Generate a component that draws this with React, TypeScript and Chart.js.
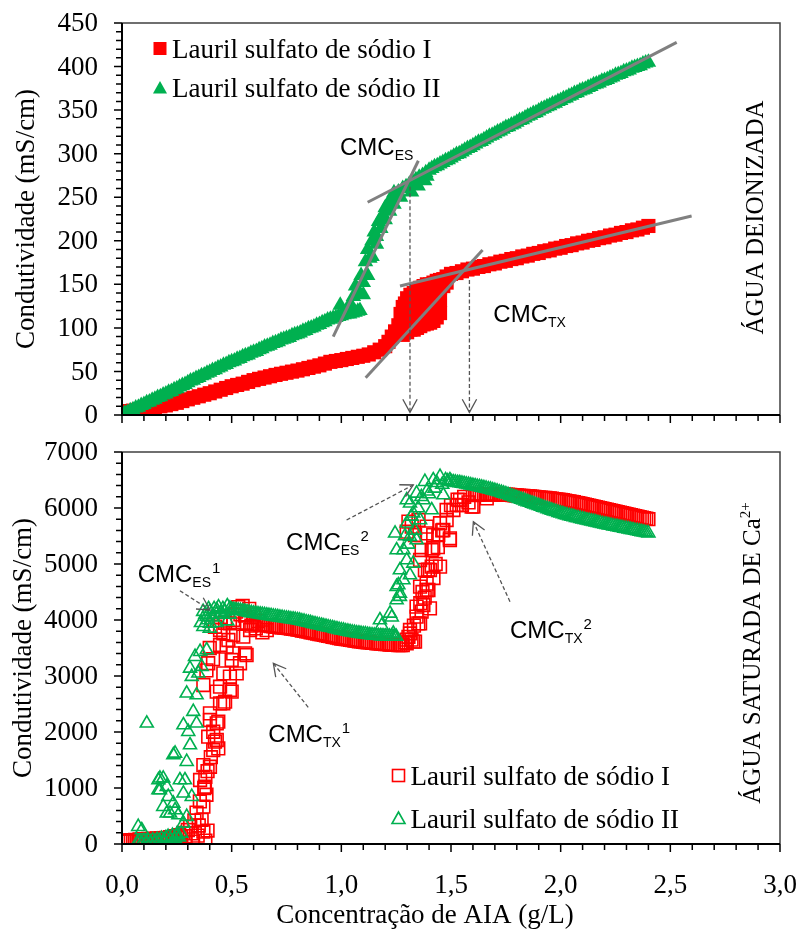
import React, { useEffect, useRef } from 'react';
import { Chart, registerables } from 'chart.js';

Chart.register(...registerables);

// ---------------- data ----------------
const seriesNames = ['Lauril sulfato de sódio I', 'Lauril sulfato de sódio II'];
const xTickValues = [0, 0.5, 1, 1.5, 2, 2.5, 3];
const xTickLabels = ['0,0', '0,5', '1,0', '1,5', '2,0', '2,5', '3,0'];
const topYTicks = [0, 50, 100, 150, 200, 250, 300, 350, 400, 450];
const bottomYTicks = [0, 1000, 2000, 3000, 4000, 5000, 6000, 7000];

// Top panel (água deionizada)
const topLaurilI = [
  [0,4],[0.025,4.5],[0.05,5],[0.075,6],[0.1,7],[0.125,8],[0.15,9],[0.175,10],[0.2,11],[0.225,12.5],[0.25,14],[0.275,16],
  [0.3,18],[0.325,19.8],[0.35,21.5],[0.375,23.3],[0.4,25],[0.425,27],[0.45,29],[0.475,31],[0.5,33],[0.525,34.5],
  [0.55,36],[0.575,38],[0.6,40],[0.625,41.5],[0.65,43],[0.675,44.5],[0.7,46],[0.725,47.3],[0.75,48.5],[0.775,49.8],
  [0.8,51],[0.825,52.5],[0.85,54],[0.875,55.5],[0.9,57],[0.925,59],[0.95,61],[0.975,62],[1,63],[1.025,64.3],
  [1.05,65.5],[1.075,66.8],[1.1,68],[1.125,69.5],[1.15,72],[1.175,75],[1.2,79],[1.215,84],[1.23,90],[1.245,96],
  [1.26,103],
  [1.27,100],[1.27,116],[1.28,92],[1.28,108],[1.28,124],[1.29,96],[1.29,112],[1.29,128],[1.3,95],[1.3,110],[1.3,126],
  [1.3,134],[1.315,98],[1.315,114],[1.315,130],[1.315,138],[1.33,98],[1.33,112],[1.33,128],[1.33,140],[1.345,100],
  [1.345,116],[1.345,132],[1.345,144],[1.36,102],[1.36,118],[1.36,134],[1.36,146],[1.375,104],[1.375,120],[1.375,136],
  [1.375,148],[1.39,105],[1.39,122],[1.39,138],[1.39,150],[1.405,106],[1.405,124],[1.405,140],[1.405,150],[1.42,108],
  [1.42,126],[1.42,142],[1.42,152],[1.435,112],[1.435,128],[1.435,144],[1.435,154],[1.45,117],[1.45,132],[1.45,146],
  [1.45,155],[1.465,148],[1.465,156],[1.48,152],[1.48,159],[1.5,162],[1.525,163],
  [1.55,165],[1.575,167],[1.6,168],[1.625,170],[1.65,171],[1.675,173],[1.7,174],[1.725,176],[1.75,177],[1.775,179],
  [1.8,180],[1.825,182],[1.85,183],[1.875,185],[1.9,186],[1.925,188],[1.95,189],[1.975,191],[2,192],[2.025,194],
  [2.05,195],[2.075,197],[2.1,198],[2.125,200],[2.15,201],[2.175,203],[2.2,204],[2.225,206],[2.25,207],[2.275,209],
  [2.3,210],[2.325,212],[2.35,213],[2.375,215],[2.4,217],
];
const topLaurilII = [
  [0,0],[0.0125,2],[0.025,3],[0.0375,5],[0.05,6],[0.0625,8],[0.075,9],[0.0875,11],[0.1,12],[0.1125,14],[0.125,15],
  [0.1375,17],[0.15,18],[0.1625,20],[0.175,21],[0.1875,23],[0.2,24],[0.2125,26],[0.225,27],[0.2375,29],[0.25,30],
  [0.2625,32],[0.275,34],[0.2875,35],[0.3,37],[0.3125,39],[0.325,40],[0.3375,42],[0.35,43],[0.3625,45],[0.375,46],
  [0.3875,48],[0.4,49],[0.4125,51],[0.425,52],[0.4375,54],[0.45,55],[0.4625,57],[0.475,58],[0.4875,60],[0.5,61],
  [0.5125,62],[0.525,64],[0.5375,65],[0.55,67],[0.5625,68],[0.575,69],[0.5875,71],[0.6,72],[0.6125,73],[0.625,75],
  [0.6375,76],[0.65,78],[0.6625,79],[0.675,80],[0.6875,82],[0.7,83],[0.7125,84],[0.725,86],[0.7375,87],[0.75,88],
  [0.7625,89],[0.775,91],[0.7875,92],[0.8,93],[0.8125,94],[0.825,96],[0.8375,97],[0.85,99],[0.8625,100],[0.875,101],
  [0.8875,103],[0.9,104],[0.9125,106],[0.925,107],[0.9375,109],[0.95,110],[0.9625,111],[0.975,112],[0.9875,113],
  [1,114],[1.0125,115],[1.025,116],[1.0375,116],[1.05,117],[1.0625,118],[1.075,119],[1.085,120],
  [0.995,126],[1.04,128],[1.055,136],[1.065,148],[1.075,140],[1.09,160],[1.1,152],[1.1,138],[1.11,176],[1.12,190],
  [1.12,160],[1.13,180],[1.14,200],[1.14,182],[1.15,210],[1.16,196],[1.16,205],[1.17,222],[1.18,214],[1.18,224],
  [1.19,230],[1.2,224],[1.2,238],[1.21,240],[1.22,234],[1.22,246],[1.23,248],[1.24,242],[1.24,255],[1.25,252],
  [1.26,256],[1.27,250],[1.28,260],[1.295,262],[1.31,265],[1.32,256],[1.325,268],[1.34,270],[1.35,263],[1.355,273],
  [1.37,275],[1.38,269],[1.385,278],[1.39,274],
  [1.4,281],[1.4125,283],[1.425,285],[1.4375,286],[1.45,288],[1.4625,290],[1.475,292],[1.4875,293],[1.5,295],
  [1.5125,297],[1.525,299],[1.5375,300],[1.55,302],[1.5625,304],[1.575,306],[1.5875,307],[1.6,309],[1.6125,311],
  [1.625,313],[1.6375,314],[1.65,316],[1.6625,318],[1.675,320],[1.6875,321],[1.7,323],[1.7125,325],[1.725,326],
  [1.7375,328],[1.75,330],[1.7625,331],[1.775,333],[1.7875,334],[1.8,336],[1.8125,338],[1.825,339],[1.8375,341],
  [1.85,343],[1.8625,344],[1.875,346],[1.8875,347],[1.9,349],[1.9125,351],[1.925,352],[1.9375,354],[1.95,355],
  [1.9625,357],[1.975,358],[1.9875,360],[2,361],[2.0125,363],[2.025,364],[2.0375,366],[2.05,367],[2.0625,369],
  [2.075,370],[2.0875,372],[2.1,373],[2.1125,374],[2.125,376],[2.1375,377],[2.15,379],[2.1625,380],[2.175,381],
  [2.1875,383],[2.2,384],[2.2125,385],[2.225,387],[2.2375,388],[2.25,390],[2.2625,391],[2.275,392],[2.2875,394],
  [2.3,395],[2.3125,396],[2.325,398],[2.3375,399],[2.35,400],[2.3625,401],[2.375,403],[2.3875,404],[2.4,405],
];
const topFitLines = [
  [[0.963, 89.9], [1.351, 291.9]],
  [[1.12, 244.2], [2.529, 427.8]],
  [[1.111, 42.8], [1.644, 189.4]],
  [[1.2675, 148.1], [2.597, 228.4]],
];
const topCmcArrows = [[1.313, 262, 1.313, 3], [1.584, 155, 1.584, 3]];
const topCmcLabels = [
  { x: 0.994, y: 298.5, sub: 'ES', sup: '' },
  { x: 1.693, y: 106.4, sub: 'TX', sup: '' },
];

// Bottom panel (água saturada de Ca2+)
const bottomLaurilI = [
  [0,55],[0.01,45],[0.02,65],[0.03,50],[0.04,70],[0.05,55],[0.06,75],[0.07,60],[0.08,80],[0.09,65],[0.1,85],[0.11,70],
  [0.12,90],[0.13,75],[0.14,95],[0.15,80],[0.16,100],[0.17,85],[0.18,105],[0.19,90],[0.2,110],[0.21,95],[0.22,120],
  [0.23,100],[0.24,140],[0.25,110],[0.26,160],[0.27,120],
  [0.28,200],[0.29,140],[0.3,250],[0.311,310],[0.318,190],[0.324,42],[0.33,420],[0.34,560],[0.345,150],[0.35,330],
  [0.355,760],[0.363,430],[0.371,220],[0.371,666],[0.375,1000],[0.378,1023],[0.356,1143],[0.38,1200],[0.38,60],
  [0.39,240],[0.371,1410],[0.385,880],[0.39,1300],[0.401,1380],[0.393,1916],[0.401,2214],[0.401,2333],[0.405,1550],
  [0.416,1678],[0.416,2005],[0.424,1827],[0.432,1857],[0.432,2155],[0.439,1708],[0.439,2184],[0.447,2512],[0.447,2809],
  [0.432,2720],[0.47,2541],[0.462,2512],[0.462,3048],[0.492,2988],[0.5,2720],[0.492,2750],[0.371,2839],[0.393,3227],
  [0.385,3100],[0.4,3500],[0.415,3300],[0.5,3286],[0.523,3048],[0.561,3405],[0.568,3375],[0.538,3227],[0.507,3405],
  [0.477,3524],[0.447,3554],[0.485,3643],[0.462,3762],[0.424,3880],[0.507,3732],[0.553,3702],[0.447,3821],[0.584,3821],
  [0.492,3940],[0.507,4000],[0.45,4050],[0.47,3950],[0.52,4150],[0.53,4230],[0.55,4250],[0.56,4080],[0.58,4200],
  [0.59,3900],[0.6,4100],[0.61,3850],[0.62,3980],[0.64,3780],[0.66,3820],[0.57,3950],[0.54,4100],
  [0.6,3930],[0.61,3926],[0.62,3921],[0.63,3917],[0.64,3913],[0.65,3909],[0.66,3904],[0.67,3899],[0.68,3893],
  [0.69,3886],[0.7,3880],[0.71,3877],[0.72,3871],[0.73,3868],[0.74,3863],[0.75,3859],[0.76,3855],[0.77,3848],
  [0.78,3843],[0.79,3836],[0.8,3830],[0.81,3823],[0.82,3813],[0.83,3807],[0.84,3797],[0.85,3791],[0.86,3781],
  [0.87,3775],[0.88,3765],[0.89,3759],[0.9,3750],[0.91,3743],[0.92,3733],[0.93,3727],[0.94,3717],[0.95,3711],
  [0.96,3701],[0.97,3695],[0.98,3685],[0.99,3679],[1,3670],[1.01,3665],[1.02,3657],[1.03,3653],[1.04,3645],
  [1.05,3641],[1.06,3633],[1.07,3629],[1.08,3621],[1.09,3617],[1.1,3610],[1.11,3607],[1.12,3601],[1.13,3599],
  [1.14,3593],[1.15,3591],[1.16,3585],[1.17,3583],[1.18,3577],[1.19,3575],[1.2,3570],[1.21,3568],[1.22,3563],
  [1.23,3562],[1.24,3557],[1.25,3556],[1.26,3552],[1.27,3552],[1.28,3550],
  [1.29,3600],[1.298,3583],[1.298,3650],[1.306,3700],[1.313,3821],[1.313,3760],[1.32,3650],[1.328,3613],[1.331,3900],
  [1.336,3613],[1.343,4060],[1.343,4238],[1.351,3940],[1.359,3940],[1.359,4595],[1.36,4300],[1.366,4150],[1.366,5250],
  [1.374,4268],[1.37,4500],[1.381,4893],[1.38,4400],[1.389,4536],[1.389,4650],[1.389,5548],[1.389,5667],[1.395,4900],
  [1.397,4536],[1.404,4208],[1.404,4893],[1.412,4952],[1.412,5250],[1.419,5518],[1.419,5280],[1.42,4750],[1.43,5000],
  [1.44,5300],[1.442,5518],[1.45,4952],[1.45,5727],[1.46,5600],[1.465,5607],[1.48,5964],[1.48,5786],[1.495,5429],
  [1.495,5459],[1.5,6050],[1.511,5964],[1.526,6054],[1.53,6150],[1.541,6143],[1.55,6050],[1.56,6200],[1.58,6100],
  [1.594,6024],[1.602,6024],[1.61,6250],[1.663,6173],[1.298,5578],[1.306,5756],[1.321,5667],[1.336,5518],[1.359,5071],
  [1.352,5786],
  [1.6,6230],[1.61,6233],[1.62,6237],[1.63,6239],[1.64,6243],[1.65,6245],[1.66,6246],[1.67,6248],[1.68,6247],
  [1.69,6246],[1.7,6245],[1.71,6245],[1.72,6243],[1.73,6242],[1.74,6240],[1.75,6240],[1.76,6237],[1.77,6233],
  [1.78,6231],[1.79,6227],[1.8,6225],[1.81,6222],[1.82,6218],[1.83,6216],[1.84,6212],[1.85,6210],[1.86,6206],
  [1.87,6201],[1.88,6198],[1.89,6193],[1.9,6190],[1.91,6186],[1.92,6181],[1.93,6178],[1.94,6173],[1.95,6170],
  [1.96,6165],[1.97,6159],[1.98,6155],[1.99,6149],[2,6145],[2.01,6138],[2.02,6130],[2.03,6124],[2.04,6116],
  [2.05,6110],[2.06,6102],[2.07,6093],[2.08,6086],[2.09,6077],[2.1,6070],[2.11,6061],[2.12,6051],[2.13,6043],
  [2.14,6033],[2.15,6025],[2.16,6016],[2.17,6006],[2.18,5998],[2.19,5988],[2.2,5980],[2.21,5971],[2.22,5961],
  [2.23,5953],[2.24,5943],[2.25,5935],[2.26,5926],[2.27,5916],[2.28,5908],[2.29,5898],[2.3,5890],[2.31,5881],
  [2.32,5871],[2.33,5863],[2.34,5853],[2.35,5845],[2.36,5836],[2.37,5826],[2.38,5818],[2.39,5808],[2.4,5800],
];
const bottomLaurilII = [
  [0.07,30],[0.08,45],[0.09,20],[0.1,55],[0.11,30],[0.12,60],[0.13,35],[0.14,70],[0.15,45],[0.16,80],[0.17,55],
  [0.18,95],[0.19,65],[0.2,110],[0.21,130],[0.22,85],[0.23,150],[0.24,100],[0.25,170],[0.26,120],[0.27,190],
  [0.074,309],[0.09,250],[0.113,2155],[0.166,964],[0.166,1143],[0.173,1173],[0.173,964],[0.188,666],[0.188,1173],
  [0.204,1023],[0.204,548],[0.211,845],[0.219,548],[0.234,1589],[0.234,726],[0.242,607],[0.242,1619],[0.249,131],
  [0.257,518],[0.264,1143],[0.28,905],[0.28,369],[0.28,2125],[0.287,1143],[0.295,1470],[0.295,488],[0.295,2691],
  [0.302,2005],[0.31,1768],[0.31,3137],[0.318,2988],[0.318,845],[0.325,2363],[0.333,3345],[0.34,2155],[0.34,2661],
  [0.348,3048],[0.356,3434],[0.363,3167],[0.371,3880],[0.386,3464],[0.386,4060],[0.401,3940],[0.432,4179],[0.492,4208],
  [0.36,3950],[0.37,4150],[0.38,4100],[0.39,4000],[0.395,4200],[0.4,4150],[0.41,4050],[0.42,4200],[0.43,4100],
  [0.44,4230],[0.45,4120],[0.46,4200],[0.47,4150],[0.48,4250],[0.49,4100],[0.4,3850],[0.43,3950],[0.48,3980],
  [0.5,4190],[0.51,4184],[0.52,4179],[0.53,4171],[0.54,4167],[0.55,4160],[0.56,4153],[0.57,4143],[0.58,4137],
  [0.59,4127],[0.6,4120],[0.61,4115],[0.62,4107],[0.63,4103],[0.64,4095],[0.65,4090],[0.66,4085],[0.67,4077],
  [0.68,4073],[0.69,4065],[0.7,4060],[0.71,4055],[0.72,4047],[0.73,4043],[0.74,4035],[0.75,4030],[0.76,4025],
  [0.77,4017],[0.78,4013],[0.79,4005],[0.8,4000],[0.81,3992],[0.82,3981],[0.83,3974],[0.84,3963],[0.85,3955],
  [0.86,3947],[0.87,3936],[0.88,3929],[0.89,3918],[0.9,3910],[0.91,3902],[0.92,3891],[0.93,3884],[0.94,3873],
  [0.95,3865],[0.96,3857],[0.97,3846],[0.98,3839],[0.99,3828],[1,3820],[1.01,3813],[1.02,3803],[1.03,3797],
  [1.04,3787],[1.05,3780],[1.06,3775],[1.07,3767],[1.08,3763],[1.09,3755],[1.1,3750],[1.11,3746],[1.12,3739],
  [1.13,3736],[1.14,3729],[1.15,3725],[1.16,3723],[1.17,3718],[1.18,3717],[1.19,3712],[1.2,3710],[1.21,3710],
  [1.22,3707],[1.23,3708],[1.24,3705],[1.25,3705],
  [1.176,4000],[1.184,3900],[1.222,4119],[1.23,4050],[1.237,3762],[1.245,5548],[1.252,4357],[1.252,4595],[1.252,5250],
  [1.26,4625],[1.267,4417],[1.267,4476],[1.267,4893],[1.283,4714],[1.283,5250],[1.29,5500],[1.298,5071],[1.298,5727],
  [1.298,6143],[1.305,5350],[1.313,4803],[1.313,5488],[1.313,6084],[1.32,5850],[1.328,5012],[1.328,5905],[1.335,5600],
  [1.343,5429],[1.343,6262],[1.35,6000],[1.359,5786],[1.365,6200],[1.374,6143],[1.381,6470],[1.39,6300],[1.4,6250],
  [1.412,5964],[1.419,6500],[1.425,6350],[1.435,6450],[1.45,6560],[1.46,6420],[1.465,6232],[1.475,6500],[1.485,6480],
  [1.495,6500],
  [1.5,6470],[1.51,6464],[1.52,6459],[1.53,6451],[1.54,6447],[1.55,6440],[1.56,6433],[1.57,6423],[1.58,6417],
  [1.59,6407],[1.6,6400],[1.61,6393],[1.62,6383],[1.63,6377],[1.64,6367],[1.65,6360],[1.66,6351],[1.67,6339],
  [1.68,6331],[1.69,6319],[1.7,6310],[1.71,6299],[1.72,6285],[1.73,6275],[1.74,6261],[1.75,6250],[1.76,6237],
  [1.77,6221],[1.78,6209],[1.79,6193],[1.8,6180],[1.81,6167],[1.82,6151],[1.83,6139],[1.84,6123],[1.85,6110],
  [1.86,6097],[1.87,6081],[1.88,6069],[1.89,6053],[1.9,6040],[1.91,6027],[1.92,6011],[1.93,5999],[1.94,5983],
  [1.95,5970],[1.96,5958],[1.97,5943],[1.98,5932],[1.99,5917],[2,5905],[2.01,5895],[2.02,5882],[2.03,5873],
  [2.04,5860],[2.05,5850],[2.06,5841],[2.07,5829],[2.08,5821],[2.09,5809],[2.1,5800],[2.11,5792],[2.12,5781],
  [2.13,5774],[2.14,5763],[2.15,5755],[2.16,5747],[2.17,5736],[2.18,5729],[2.19,5718],[2.2,5710],[2.21,5703],
  [2.22,5693],[2.23,5687],[2.24,5677],[2.25,5670],[2.26,5663],[2.27,5653],[2.28,5647],[2.29,5637],[2.3,5630],
  [2.31,5623],[2.32,5613],[2.33,5607],[2.34,5597],[2.35,5590],[2.36,5583],[2.37,5573],[2.38,5567],[2.39,5557],
  [2.4,5550],
];
const bottomCmcArrows = [
  [0.264, 4523, 0.401, 4179],
  [0.849, 2441, 0.69, 3227],
  [1.024, 5786, 1.328, 6411],
  [1.769, 4327, 1.602, 5755],
];
const bottomCmcLabels = [
  { x: 0.0716, y: 4684, sub: 'ES', sup: '1' },
  { x: 0.667, y: 1827, sub: 'TX', sup: '1' },
  { x: 0.748, y: 5250, sub: 'ES', sup: '2' },
  { x: 1.769, y: 3673, sub: 'TX', sup: '2' },
];

// ---------------- styles ----------------
const RED = '#FF0000';
const GREEN = '#00B050';
const GRAY = '#808080';
const ARROW = '#555555';
const SERIF = '"Liberation Serif", "Times New Roman", serif';
const SANS = '"Liberation Sans", Arial, sans-serif';

const toXY = (arr: number[][]) => arr.map(([x, y]) => ({ x, y }));

function drawCmc(ctx: CanvasRenderingContext2D, x: number, y: number, sub: string, sup: string) {
  ctx.fillStyle = '#000';
  ctx.textAlign = 'left';
  ctx.textBaseline = 'alphabetic';
  ctx.font = `24px ${SANS}`;
  ctx.fillText('CMC', x, y);
  let cx = x + ctx.measureText('CMC').width;
  ctx.font = `14px ${SANS}`;
  ctx.fillText(sub, cx, y + 5);
  cx += ctx.measureText(sub).width + 1;
  if (sup) {
    ctx.font = `15px ${SANS}`;
    ctx.fillText(sup, cx, y - 9);
  }
}

function drawArrow(ctx: CanvasRenderingContext2D, x1: number, y1: number, x2: number, y2: number, head: number) {
  ctx.save();
  ctx.strokeStyle = ARROW;
  ctx.lineWidth = 1.3;
  ctx.setLineDash([4, 2.5]);
  ctx.beginPath();
  ctx.moveTo(x1, y1);
  ctx.lineTo(x2, y2);
  ctx.stroke();
  ctx.setLineDash([]);
  const a = Math.atan2(y2 - y1, x2 - x1);
  const w = 0.5;
  ctx.beginPath();
  ctx.moveTo(x2 - head * Math.cos(a - w), y2 - head * Math.sin(a - w));
  ctx.lineTo(x2, y2);
  ctx.lineTo(x2 - head * Math.cos(a + w), y2 - head * Math.sin(a + w));
  ctx.stroke();
  ctx.restore();
}

function drawRotated(ctx: CanvasRenderingContext2D, bx: number, cy: number, text: string, size: number, sup: string) {
  ctx.save();
  ctx.translate(bx, cy);
  ctx.rotate(-Math.PI / 2);
  ctx.fillStyle = '#000';
  ctx.textAlign = 'left';
  ctx.textBaseline = 'alphabetic';
  ctx.font = `${size}px ${SERIF}`;
  const w1 = ctx.measureText(text).width;
  let w2 = 0;
  if (sup) {
    ctx.font = `15px ${SERIF}`;
    w2 = ctx.measureText(sup).width;
  }
  const sx = -(w1 + w2) / 2;
  ctx.font = `${size}px ${SERIF}`;
  ctx.fillText(text, sx, 0);
  if (sup) {
    ctx.font = `15px ${SERIF}`;
    ctx.fillText(sup, sx + w1, -10);
  }
  ctx.restore();
}

type Spec = {
  id: string;
  yTicks: number[];
  yMinor: number;
  yMajor: number;
  yMax: number;
  xLabels: boolean;
  filled: boolean;
  legend: { dx: number; dy1: number; dy2: number };
  labels: { x: number; y: number; sub: string; sup: string }[];
  arrows: number[][];
  arrowHead: number;
  side: { text: string; sup: string; dx: number; dy: number };
  yTitleX: number;
  xTitle: boolean;
};

function decorPlugin(spec: Spec) {
  return {
    id: spec.id,
    afterDatasetsDraw(chart: any) {
      const { ctx, scales } = chart;
      const xs = scales.x;
      const ys = scales.y;
      spec.arrows.forEach(([x1, y1, x2, y2]) => {
        drawArrow(ctx, xs.getPixelForValue(x1), ys.getPixelForValue(y1), xs.getPixelForValue(x2), ys.getPixelForValue(y2), spec.arrowHead);
      });
      ctx.save();
      spec.labels.forEach((l) => drawCmc(ctx, xs.getPixelForValue(l.x), ys.getPixelForValue(l.y), l.sub, l.sup));
      ctx.restore();
    },
    afterDraw(chart: any) {
      const { ctx, chartArea: ca, scales } = chart;
      const xs = scales.x;
      const ys = scales.y;
      ctx.save();
      // frame
      ctx.strokeStyle = '#404040';
      ctx.lineWidth = 1.5;
      ctx.beginPath();
      ctx.moveTo(ca.left, ca.top);
      ctx.lineTo(ca.right, ca.top);
      ctx.lineTo(ca.right, ca.bottom);
      ctx.stroke();
      ctx.strokeStyle = '#000';
      ctx.lineWidth = 2;
      ctx.beginPath();
      ctx.moveTo(ca.left, ca.top);
      ctx.lineTo(ca.left, ca.bottom);
      ctx.lineTo(ca.right, ca.bottom);
      ctx.stroke();
      // tick marks
      ctx.lineWidth = 1.5;
      ctx.beginPath();
      for (let i = 0; i <= 30; i++) {
        const px = xs.getPixelForValue(i / 10);
        const len = i % 5 === 0 ? 8 : 6;
        ctx.moveTo(px, ca.bottom);
        ctx.lineTo(px, ca.bottom + len);
      }
      const n = Math.round(spec.yMax / spec.yMinor);
      for (let i = 0; i <= n; i++) {
        const v = i * spec.yMinor;
        const py = ys.getPixelForValue(v);
        const len = v % spec.yMajor === 0 ? 8 : 6;
        ctx.moveTo(ca.left - len, py);
        ctx.lineTo(ca.left, py);
      }
      ctx.stroke();

      // tick labels
      ctx.fillStyle = '#000';
      ctx.font = `27px ${SERIF}`;
      ctx.textAlign = 'right';
      ctx.textBaseline = 'middle';
      spec.yTicks.forEach((v) => ctx.fillText(String(v), ca.left - 24, ys.getPixelForValue(v) + 1));
      if (spec.xLabels) {
        ctx.textAlign = 'center';
        ctx.textBaseline = 'alphabetic';
        xTickValues.forEach((v, i) => ctx.fillText(xTickLabels[i], xs.getPixelForValue(v), ca.bottom + 49));
      }

      // legend
      const lx = ca.left + spec.legend.dx;
      const l1 = ca.top + spec.legend.dy1;
      const l2 = ca.top + spec.legend.dy2;
      if (spec.filled) {
        ctx.fillStyle = RED;
        ctx.fillRect(lx - 6.5, l1 - 6.5, 13, 13);
        ctx.fillStyle = GREEN;
        ctx.beginPath();
        ctx.moveTo(lx, l2 - 7);
        ctx.lineTo(lx + 7, l2 + 5.5);
        ctx.lineTo(lx - 7, l2 + 5.5);
        ctx.closePath();
        ctx.fill();
      } else {
        ctx.lineWidth = 1.6;
        ctx.strokeStyle = RED;
        ctx.strokeRect(lx - 6, l1 - 6, 12, 12);
        ctx.strokeStyle = GREEN;
        ctx.beginPath();
        ctx.moveTo(lx, l2 - 6.5);
        ctx.lineTo(lx + 6.5, l2 + 5);
        ctx.lineTo(lx - 6.5, l2 + 5);
        ctx.closePath();
        ctx.stroke();
      }
      ctx.fillStyle = '#000';
      ctx.font = `27px ${SERIF}`;
      ctx.textAlign = 'left';
      ctx.textBaseline = 'alphabetic';
      ctx.fillText(seriesNames[0], lx + 12, l1 + 9);
      ctx.fillText(seriesNames[1], lx + 12, l2 + 9);

      // side label
      const cy = (ca.top + ca.bottom) / 2;
      drawRotated(ctx, ca.right - spec.side.dx, cy + spec.side.dy, spec.side.text, 25, spec.side.sup);
      // y title
      drawRotated(ctx, spec.yTitleX, cy, 'Condutividade (mS/cm)', 27, '');
      // x title
      if (spec.xTitle) {
        ctx.fillStyle = '#000';
        ctx.font = `27px ${SERIF}`;
        ctx.textAlign = 'center';
        ctx.textBaseline = 'alphabetic';
        ctx.fillText('Concentração de AIA (g/L)', ca.left + 303, ca.bottom + 79);
      }
      ctx.restore();
    },
  };
}

function baseScales(yMax: number, xHeight: number) {
  return {
    x: {
      type: 'linear',
      min: 0,
      max: 3,
      afterFit: (s: any) => {
        s.height = xHeight;
      },
      grid: { display: false, drawTicks: false },
      border: { display: false },
      ticks: { display: false },
    },
    y: {
      type: 'linear',
      min: 0,
      max: yMax,
      afterFit: (s: any) => {
        s.width = 122;
      },
      grid: { display: false, drawTicks: false },
      border: { display: false },
      ticks: { display: false },
    },
  };
}

function topConfig(): any {
  return {
    type: 'scatter',
    data: {
      datasets: [
        {
          label: seriesNames[0],
          data: toXY(topLaurilI),
          pointStyle: 'rect',
          pointRadius: 10,
          backgroundColor: RED,
          borderColor: RED,
          borderWidth: 0,
          order: 3,
        },
        {
          label: seriesNames[1],
          data: toXY(topLaurilII),
          pointStyle: 'triangle',
          pointRadius: 9,
          backgroundColor: GREEN,
          borderColor: GREEN,
          borderWidth: 0,
          order: 2,
        },
        ...topFitLines.map((l) => ({
          data: toXY(l),
          showLine: true,
          borderColor: GRAY,
          borderWidth: 3,
          pointRadius: 0,
          order: 1,
        })),
      ],
    },
    options: {
      animation: false,
      responsive: false,
      maintainAspectRatio: false,
      events: [],
      layout: { autoPadding: false, padding: { left: 0, right: 21, top: 23, bottom: 0 } },
      plugins: { legend: { display: false }, tooltip: { enabled: false } },
      scales: baseScales(450, 15),
    },
    plugins: [
      decorPlugin({
        id: 'decorTop',
        yTicks: topYTicks,
        yMinor: 10,
        yMajor: 50,
        yMax: 450,
        xLabels: false,
        filled: true,
        legend: { dx: 38, dy1: 25.5, dy2: 65 },
        labels: topCmcLabels,
        arrows: topCmcArrows,
        arrowHead: 15,
        side: { text: 'ÁGUA DEIONIZADA', sup: '', dx: 17, dy: -1.5 },
        yTitleX: 34,
        xTitle: false,
      }),
    ],
  };
}

function bottomConfig(): any {
  return {
    type: 'scatter',
    data: {
      datasets: [
        {
          label: seriesNames[0],
          data: toXY(bottomLaurilI),
          pointStyle: 'rect',
          pointRadius: 9,
          backgroundColor: 'rgba(0,0,0,0)',
          borderColor: RED,
          borderWidth: 1.6,
          order: 3,
        },
        {
          label: seriesNames[1],
          data: toXY(bottomLaurilII),
          pointStyle: 'triangle',
          pointRadius: 7.5,
          backgroundColor: 'rgba(0,0,0,0)',
          borderColor: GREEN,
          borderWidth: 1.6,
          order: 2,
        },
      ],
    },
    options: {
      animation: false,
      responsive: false,
      maintainAspectRatio: false,
      events: [],
      layout: { autoPadding: false, padding: { left: 0, right: 21, top: 22, bottom: 0 } },
      plugins: { legend: { display: false }, tooltip: { enabled: false } },
      scales: baseScales(7000, 85),
    },
    plugins: [
      decorPlugin({
        id: 'decorBottom',
        yTicks: bottomYTicks,
        yMinor: 200,
        yMajor: 1000,
        yMax: 7000,
        xLabels: true,
        filled: false,
        legend: { dx: 276.5, dy1: 323.5, dy2: 366.5 },
        labels: bottomCmcLabels,
        arrows: bottomCmcArrows,
        arrowHead: 14,
        side: { text: 'ÁGUA SATURADA DE Ca', sup: '2+', dx: 20, dy: 5 },
        yTitleX: 31,
        xTitle: true,
      }),
    ],
  };
}

export default function App() {
  const topRef = useRef<HTMLCanvasElement>(null);
  const bottomRef = useRef<HTMLCanvasElement>(null);
  useEffect(() => {
    const c1 = new Chart(topRef.current as HTMLCanvasElement, topConfig());
    const c2 = new Chart(bottomRef.current as HTMLCanvasElement, bottomConfig());
    return () => {
      c1.destroy();
      c2.destroy();
    };
  }, []);
  return (
    <div style={{ position: 'absolute', left: 0, top: 0, width: 801, height: 929, background: '#fff' }}>
      <canvas ref={topRef} width={801} height={430} style={{ position: 'absolute', left: 0, top: 0, width: 801, height: 430 }} />
      <canvas ref={bottomRef} width={801} height={499} style={{ position: 'absolute', left: 0, top: 430, width: 801, height: 499 }} />
    </div>
  );
}
